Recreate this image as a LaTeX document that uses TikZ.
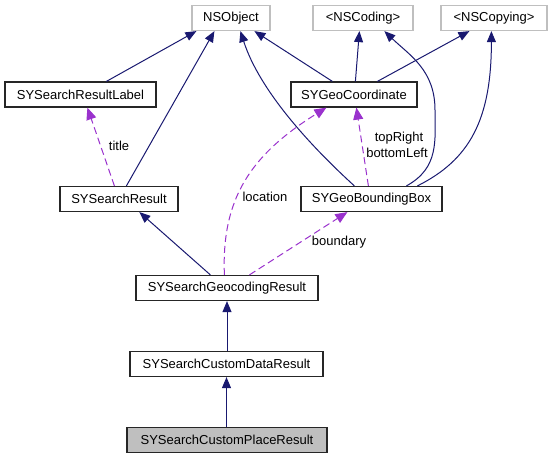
\documentclass[tikz,border=0pt]{standalone}
\usepackage{fontspec}
\setmainfont{Liberation Sans}
\usetikzlibrary{arrows.meta}
\definecolor{navyc}{HTML}{191970}
\definecolor{purc}{HTML}{9A32CD}
\definecolor{grayb}{HTML}{BFBFBF}
\begin{document}
\begin{tikzpicture}[x=1pt,y=-1pt,
  cls/.style={draw=black!85,line width=1.2pt,rectangle,inner sep=0pt,minimum height=25pt,font=\fontsize{13}{15}\selectfont},
  ext/.style={cls,draw=grayb},
  inh/.style={draw=navyc,line width=1pt,-{Triangle[length=11pt,width=9pt,fill=navyc]}},
  use/.style={draw=purc,line width=1pt,dashed,dash pattern=on 7pt off 4pt,-{Triangle[length=12pt,width=10pt,fill=purc]}},
  lbl/.style={font=\fontsize{13}{15}\selectfont,inner sep=0pt,align=center}]
\useasboundingbox (0,0) rectangle (552,459);
\node[ext,minimum width=78pt] (nsobj) at (231,18) {NSObject};
\node[ext,minimum width=100pt] (nscoding) at (363,18) {<NSCoding>};
\node[ext,minimum width=106pt] (nscopying) at (494,18) {<NSCopying>};
\node[cls,minimum width=151pt] (srlabel) at (80.5,94.5) {SYSearchResultLabel};
\node[cls,minimum width=126pt] (geocoord) at (354,94.5) {SYGeoCoordinate};
\node[cls,minimum width=118pt] (sresult) at (119,199) {SYSearchResult};
\node[cls,minimum width=141pt] (geobox) at (371.5,199) {SYGeoBoundingBox};
\node[cls,minimum width=182pt] (geocode) at (227,288) {SYSearchGeocodingResult};
\node[cls,minimum width=193pt] (customdata) at (226.5,364) {SYSearchCustomDataResult};
\node[cls,minimum width=200pt,fill=grayb] (customplace) at (227,440) {SYSearchCustomPlaceResult};
% inheritance
\draw[inh] ([xshift=102pt]srlabel.north west) -- ([xshift=5pt]nsobj.south west);
\draw[inh] ([xshift=67pt]sresult.north west) -- ([xshift=23pt]nsobj.south west);
\draw[inh] ([xshift=42pt]geocoord.north west) -- ([xshift=63pt]nsobj.south west);
\draw[inh] ([xshift=54pt]geobox.north west) .. controls +(-45,-41) and +(19,59) .. ([xshift=49pt]nsobj.south west);
\draw[inh] ([xshift=65pt]geocoord.north west) -- ([xshift=47pt]nscoding.south west);
\draw[inh] ([xshift=87pt]geocoord.north west) -- ([xshift=29pt]nscopying.south west);
\draw[inh] ([xshift=106pt]geobox.north west) .. controls +(33,-18) and +(0,30) .. (435,110) .. controls +(0,-40) and +(25,24) .. ([xshift=72pt]nscoding.south west);
\draw[inh] ([xshift=117pt]geobox.north west) .. controls +(52,-26) and +(0,89) .. ([xshift=51pt]nscopying.south west);
\draw[inh] ([xshift=75pt]geocode.north west) -- ([xshift=80pt]sresult.south west);
\draw[inh] (customdata.north -| geocode.south) -- (geocode.south);
\draw[inh] (customplace.north -| customdata.south) -- (customdata.south);
% usage
\draw[use] ([xshift=55pt]sresult.north west) -- ([xshift=83pt]srlabel.south west);
\node[lbl] (ltitle) at (119,146) {title};
\draw[use] ([xshift=89pt]geocode.north west) .. controls +(-3,-75) and +(-77,48) .. ([xshift=36pt]geocoord.south west);
\node[lbl] (lloc) at (265,197) {location};
\draw[use] ([xshift=68pt]geobox.north west) -- ([xshift=66pt]geocoord.south west);
\node[lbl] (ltop) at (399,138) {topRight};
\node[lbl] (lbot) at (397,153) {bottomLeft};
\draw[use] ([xshift=114pt]geocode.north west) -- ([xshift=47pt]geobox.south west);
\node[lbl] (lbound) at (339,242) {boundary};
\end{tikzpicture}
\end{document}
